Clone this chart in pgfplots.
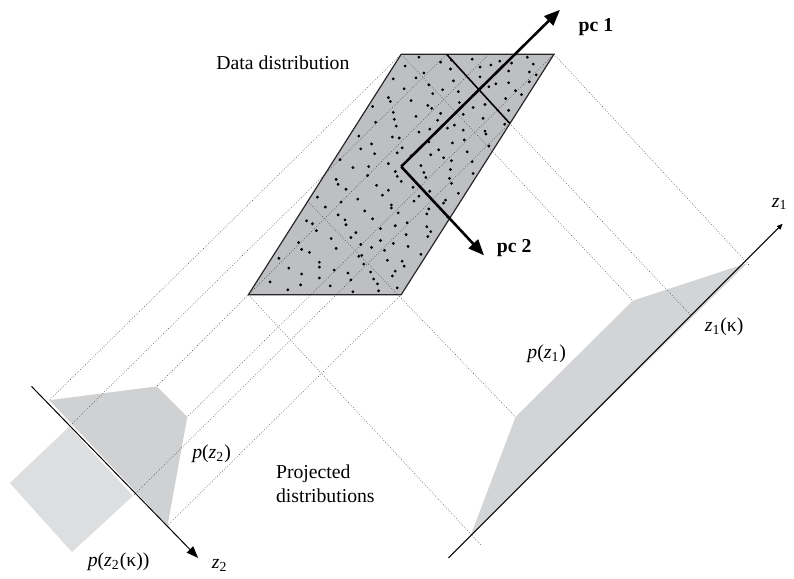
\documentclass[border=0pt]{standalone}
\usepackage{fontspec}
\setmainfont{Liberation Serif}
\usepackage{pgfplots}
\pgfplotsset{compat=1.18}
\usetikzlibrary{arrows.meta}
\definecolor{parfill}{RGB}{190,191,194}
\definecolor{pzone}{RGB}{211,212,214}
\definecolor{pztwo}{RGB}{208,209,211}
\definecolor{pzk}{RGB}{221,222,224}
\definecolor{dotc}{RGB}{70,70,70}
\begin{document}
\begin{tikzpicture}
\begin{axis}[x=0.5pt, y=0.5pt, y dir=reverse,
  xmin=0, xmax=794, ymin=0, ymax=581,
  hide axis, clip=false,
  every node/.style={font=\fontsize{11.3}{13}\selectfont, inner sep=0pt},
  proj/.style={dotc, line width=0.3pt, dash pattern=on 0.3pt off 0.9pt}]
% frame of the picture
\addplot[draw=none] coordinates {(0,0) (794,581)};
% projected distributions (filled)
\addplot[fill=pzone, draw=none] coordinates {(478,542) (523,423) (642,305) (758,267)} -- cycle;
\addplot[fill=pztwo, draw=none] coordinates {(50,406) (159,392) (190,423) (170,533)} -- cycle;
\addplot[fill=pzk, draw=none] coordinates {(70,433) (10,490) (73,560) (135,503)} -- cycle;
% data distribution
\addplot[fill=parfill, draw=none] coordinates {(407,55) (562,55) (407,299) (252,299)} -- cycle;
% projection lines towards z2
\addplot[proj] coordinates {(407,55) (50,406)};
\addplot[proj] coordinates {(496,55) (159,392)};
\addplot[proj] coordinates {(453,55) (70,433)};
\addplot[proj] coordinates {(562,55) (190,423)};
\addplot[proj] coordinates {(517,125) (135,503)};
\addplot[proj] coordinates {(407,299) (170,533)};
% projection lines towards z1
\addplot[proj] coordinates {(562,55) (761,270)};
\addplot[proj] coordinates {(517,125) (701,320)};
\addplot[proj] coordinates {(407,55) (642,305)};
\addplot[proj] coordinates {(312,204) (523,423)};
\addplot[proj] coordinates {(252,299) (488,553)};
% data points
\addplot[only marks, mark=*, mark size=0.5pt, black] table {
x y
425 58
535 58
479 60
507 62
447 63
541 65
411 67
487 68
457 70
516 72
430 74
544 76
487 78
399 80
460 82
516 84
435 86
496 88
410 90
523 92
465 93
439 95
480 97
394 99
513 100
417 102
466 104
492 106
378 108
438 110
516 112
399 114
470 116
422 118
490 120
444 122
381 124
512 126
402 128
454 130
470 132
425 134
493 136
364 138
405 140
471 142
435 144
377 146
496 148
408 150
445 152
474 154
380 156
417 158
450 160
345 162
479 164
394 166
427 168
358 170
457 172
401 174
480 176
373 178
432 180
341 182
407 184
458 186
382 188
419 190
351 192
436 194
465 196
388 198
322 200
363 202
420 204
450 206
397 208
330 210
435 212
370 214
404 216
343 218
454 220
378 222
311 224
413 226
351 228
433 230
386 232
321 234
361 236
412 238
434 240
336 242
386 244
303 246
366 248
414 250
341 252
390 254
314 256
427 258
364 260
283 262
393 264
324 266
369 268
410 270
293 272
339 274
376 276
306 278
398 280
324 282
356 284
274 286
383 288
335 290
403 292
292 294
358 296
458 61
498 66
537 73
422 79
503 85
449 91
529 96
396 103
480 109
447 115
400 121
461 127
492 133
398 139
459 145
366 151
437 157
458 163
374 169
430 175
456 181
343 187
394 193
425 199
346 205
397 211
433 217
350 223
401 229
437 235
356 241
399 247
306 253
367 259
408 265
324 271
353 277
379 283
305 289
384 295
519 64
537 83
434 107
436 131
403 155
403 179
452 203
317 227
377 251
401 275
};
% outline of the data distribution
\addplot[black!85, line width=0.6pt] coordinates {(407,55) (562,55) (407,299) (252,299)} -- cycle;
% the line z1 = kappa
\addplot[black, line width=0.8pt] coordinates {(453,55) (517,125)};
% principal components
\addplot[black, line width=1.3pt, -{Triangle[length=8pt,width=6.5pt]}] coordinates {(407,169) (568,10)};
\addplot[black, line width=1.3pt, -{Triangle[length=8pt,width=6.5pt]}] coordinates {(407,169) (491,259)};
% axes z1 and z2
\addplot[black, line width=0.5pt, -{Triangle[length=3pt,width=2.5pt]}] coordinates {(455,566) (794,227)};
\addplot[black, line width=0.5pt, -{Triangle[length=6pt,width=4.5pt]}] coordinates {(32,392) (201,566)};
% labels
\node[anchor=base] at (axis cs:287,70) {Data distribution};
\node[anchor=base west] at (axis cs:580,32) {\textbf{pc 1}};
\node[anchor=base west] at (axis cs:497,256) {\textbf{pc 2}};
\node[anchor=base west] at (axis cs:776,210) {\textit{z}\textsubscript{1}};
\node[anchor=base west] at (axis cs:708,336) {\textit{z}\textsubscript{1}(κ)};
\node[anchor=base west] at (axis cs:528,364) {\textit{p}(\textit{z}\textsubscript{1})};
\node[anchor=base west] at (axis cs:188,465) {\textit{p}(\textit{z}\textsubscript{2})};
\node[anchor=base west] at (axis cs:273,485) {Projected};
\node[anchor=base west] at (axis cs:273,510) {distributions};
\node[anchor=base west] at (axis cs:82,575) {\textit{p}(\textit{z}\textsubscript{2}(κ))};
\node[anchor=base west] at (axis cs:208,577) {\textit{z}\textsubscript{2}};
\end{axis}
\end{tikzpicture}
\end{document}
